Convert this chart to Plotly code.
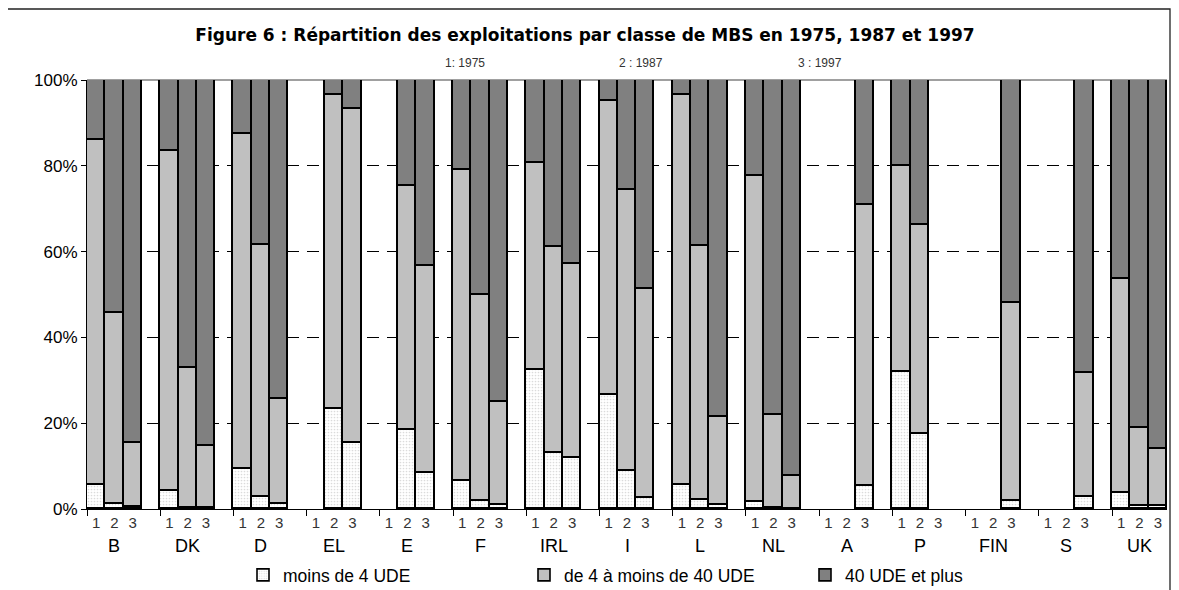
import plotly.graph_objects as go

countries = ["B", "DK", "D", "EL", "E", "F", "IRL", "I", "L", "NL", "A", "P", "FIN", "S", "UK"]
year_labels = ["1", "2", "3"]
series_names = ["moins de 4 UDE", "de 4 à moins de 40 UDE", "40 UDE et plus"]

# share "moins de 4 UDE" (%), per country: [1975, 1987, 1997]
small = {
    "B": [5.7, 1.2, 0.5], "DK": [4.1, 0.3, 0.3], "D": [9.3, 2.9, 1.2],
    "EL": [None, 23.4, 15.5], "E": [None, 18.3, 8.4], "F": [6.5, 1.8, 0.9],
    "IRL": [32.3, 13.1, 12.0], "I": [26.5, 8.8, 2.6], "L": [5.7, 2.2, 0.9],
    "NL": [1.7, 0.3, 0.1], "A": [None, None, 5.3], "P": [32.0, 17.5, None],
    "FIN": [None, None, 1.8], "S": [None, None, 2.7], "UK": [3.8, 0.8, 0.8],
}
# cumulative share "moins de 40 UDE" (%), per country: [1975, 1987, 1997]
below40 = {
    "B": [85.9, 45.8, 15.5], "DK": [83.4, 32.8, 14.7], "D": [87.3, 61.6, 25.6],
    "EL": [None, 96.4, 93.3], "E": [None, 75.2, 56.7], "F": [79.1, 50.0, 24.9],
    "IRL": [80.7, 61.0, 57.2], "I": [95.2, 74.4, 51.2], "L": [96.4, 61.4, 21.4],
    "NL": [77.6, 21.8, 7.6], "A": [None, None, 70.9], "P": [79.9, 66.3, None],
    "FIN": [None, None, 48.1], "S": [None, None, 31.6], "UK": [53.7, 18.9, 14.0],
}

xs, s_small, s_mid, s_large, tick_text = [], [], [], [], []
for i, c in enumerate(countries):
    for j in range(3):
        xs.append(4 * i + j)
        tick_text.append(year_labels[j])
        a = small[c][j]
        b = below40[c][j]
        if a is None:
            s_small.append(None); s_mid.append(None); s_large.append(None)
        else:
            s_small.append(a)
            s_mid.append(round(b - a, 2))
            s_large.append(round(100 - b, 2))

line = dict(color="black", width=1.6)
fig = go.Figure()
fig.add_trace(go.Bar(
    x=xs, y=s_small, name=series_names[0],
    marker=dict(color="white", line=line,
                pattern=dict(shape=".", size=3, solidity=0.25, fgcolor="#b8b8b8", bgcolor="white")),
))
fig.add_trace(go.Bar(x=xs, y=s_mid, name=series_names[1], marker=dict(color="#c0c0c0", line=line)))
fig.add_trace(go.Bar(x=xs, y=s_large, name=series_names[2], marker=dict(color="#808080", line=line)))

# page body has an 8px margin: the figure is drawn at (8, 8) in the window
OFF = 8
W, H = 1179 - OFF, 590 - OFF
ml, mr, mt, mb = 79, 12, 72, 81
pw, ph = W - ml - mr, H - mt - mb

def px_x(sx):
    return (sx - OFF - ml) / pw

def px_y(sy):
    return (H - mb - (sy - OFF)) / ph

def cx(sx):
    return (sx - OFF) / W

def cy(sy):
    return 1 - (sy - OFF) / H

annotations = []
for i, c in enumerate(countries):
    annotations.append(dict(x=4 * i + 1, y=px_y(546), xref="x", yref="paper", text=c,
                            xanchor="center", yanchor="middle",
                            showarrow=False, font=dict(family="Liberation Sans, Arial", size=18, color="black")))
for txt, sx in [("1: 1975", 465), ("2 : 1987", 641), ("3 : 1997", 820)]:
    annotations.append(dict(x=px_x(sx), y=px_y(63), xref="paper", yref="paper", text=txt,
                            xanchor="center", yanchor="middle",
                            showarrow=False, font=dict(family="Liberation Sans, Arial", size=12, color="#333")))

fig.update_layout(
    width=W, height=H,
    margin=dict(l=ml, r=mr, t=mt, b=mb, autoexpand=False),
    barmode="stack", bargap=0,
    paper_bgcolor="white", plot_bgcolor="white",
    title=dict(text="<b>Figure 6 : Répartition des exploitations par classe de MBS en 1975, 1987 et 1997</b>",
               x=cx(585), xref="container", xanchor="center", y=cy(35), yref="container", yanchor="middle",
               font=dict(family="DejaVu Sans", size=17, color="black")),
    font=dict(family="Liberation Sans, Arial", color="black"),
    xaxis=dict(range=[-0.5, 58.5], tickmode="array", tickvals=xs, ticktext=tick_text,
               ticks="", ticklen=0, showgrid=False, zeroline=False, showline=True, linecolor="black", linewidth=1.3,
               automargin=False,
               tickfont=dict(family="Liberation Sans, Arial", size=15, color="#333"),
               minor=dict(tickmode="linear", tick0=-0.5, dtick=4, ticks="outside", ticklen=6,
                          tickcolor="black", tickwidth=1.3, showgrid=False)),
    yaxis=dict(range=[0, 100], tickmode="array", tickvals=[0, 20, 40, 60, 80, 100],
               ticktext=["0%", "20%", "40%", "60%", "80%", "100%"],
               showgrid=True, gridcolor="black", gridwidth=1, griddash="12px,8px",
               zeroline=False, showline=True, linecolor="black", linewidth=1, automargin=False,
               ticks="outside", ticklen=5, tickcolor="black",
               tickfont=dict(family="Liberation Sans, Arial", size=17, color="black")),
    legend=dict(orientation="h", x=cx(243), y=cy(575), xref="container", yref="container",
                xanchor="left", yanchor="middle",
                font=dict(family="Liberation Sans, Arial", size=17.5, color="black"),
                entrywidth=236, traceorder="normal", bgcolor="rgba(0,0,0,0)"),
    annotations=annotations,
    shapes=[
        dict(type="line", xref="paper", yref="paper", x0=0, x1=1, y0=1, y1=1,
             line=dict(color="#808080", width=1.3), layer="below"),
        dict(type="rect", xref="paper", yref="paper", x0=px_x(5), x1=px_x(1170), y0=px_y(600), y1=px_y(9),
             line=dict(color="#222", width=1.3), fillcolor="rgba(0,0,0,0)"),
    ],
)

fig.write_html("out.html")
